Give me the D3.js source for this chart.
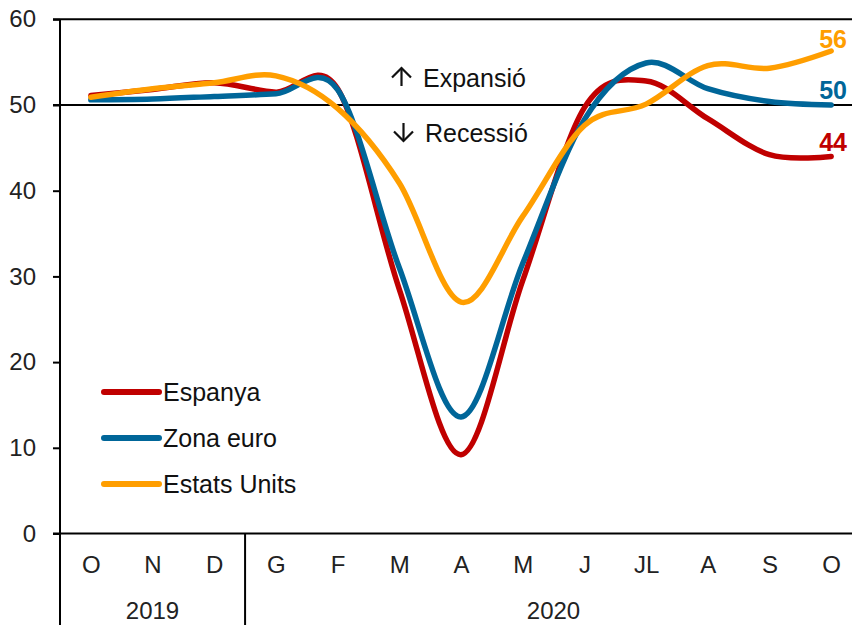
<!DOCTYPE html>
<html><head><meta charset="utf-8">
<script src="https://cdn.jsdelivr.net/npm/d3@7"></script>
<style>body{margin:0;background:#fff}svg{display:block}text{font-family:"Liberation Sans",Arial,sans-serif}</style>
</head><body><svg id="c" width="852" height="625"></svg>
<script>
const months = ["O","N","D","G","F","M","A","M","J","JL","A","S","O"];
const years = [{label:"2019", from:0, to:2},{label:"2020", from:3, to:12}];
const espanya = [51.1, 51.8, 52.6, 51.5, 51.9, 28.5, 9.2, 29.5, 49.7, 52.8, 48.4, 44.2, 44.0];
const zonaEuro = [50.6, 50.7, 51.0, 51.3, 51.8, 31.0, 13.6, 31.5, 48.3, 54.9, 51.9, 50.4, 50.0];
const estatsUnits = [50.9, 51.9, 52.6, 53.4, 49.6, 40.9, 27.0, 37.0, 47.6, 50.1, 54.6, 54.3, 56.3];
const seriesNames = ["Espanya","Zona euro","Estats Units"];
const yTicks = [0,10,20,30,40,50,60];

const series = [
  {name:seriesNames[0], values:espanya, color:"#C00000"},
  {name:seriesNames[1], values:zonaEuro, color:"#006699"},
  {name:seriesNames[2], values:estatsUnits, color:"#FF9E00"}
];

const svg = d3.select("#c");
const pL = 60, pR = 862, pT = 19.3, pB = 533.5;
const step = (pR-pL)/months.length;
const x = d3.scaleLinear().domain([0, months.length-1]).range([pL+step/2, pR-step/2]);
const y = d3.scaleLinear().domain([0,60]).range([pB, pT]);

const yAxis = d3.axisLeft(y).tickValues(yTicks).tickSize(7).tickPadding(17).tickSizeOuter(0);
const gy = svg.append("g").attr("transform",`translate(${pL},0)`).call(yAxis);
gy.select(".domain").remove();
gy.selectAll(".tick line").attr("stroke","#000").attr("stroke-width",2);
gy.selectAll(".tick text").attr("font-size",24).attr("fill","#222");
svg.append("line").attr("x1",pL).attr("x2",pL).attr("y1",pT).attr("y2",625).attr("stroke","#000").attr("stroke-width",2);
svg.append("line").attr("x1",pL-7).attr("x2",852).attr("y1",y(60)).attr("y2",y(60)).attr("stroke","#000").attr("stroke-width",2);
svg.append("line").attr("x1",pL-7).attr("x2",852).attr("y1",y(50)).attr("y2",y(50)).attr("stroke","#000").attr("stroke-width",2);
svg.append("line").attr("x1",pL-7).attr("x2",852).attr("y1",pB).attr("y2",pB).attr("stroke","#000").attr("stroke-width",2);

const xAxis = d3.axisBottom(x).tickValues(d3.range(months.length)).tickFormat(i=>months[i]).tickSize(0).tickPadding(22);
const gx = svg.append("g").attr("transform",`translate(0,${pB})`).call(xAxis);
gx.select(".domain").remove();
gx.selectAll(".tick text").attr("font-size",24).attr("fill","#222");

years.forEach((yr,k)=>{
  const x0 = x(yr.from)-step/2, x1 = x(yr.to)+step/2;
  if(k>0) svg.append("line").attr("x1",x0).attr("x2",x0).attr("y1",pB).attr("y2",625).attr("stroke","#000").attr("stroke-width",2);
  svg.append("text").attr("x",(x0+x1)/2).attr("y",619).attr("text-anchor","middle").attr("font-size",24).attr("fill","#222").text(yr.label);
});

// annotations: arrow glyph drawn as a small path + label text
const ann = [{dir:-1, label:"Expansió", cx:401.5, tx:423, yb:87},{dir:1, label:"Recessió", cx:403.5, tx:425, yb:142}];
ann.forEach(a=>{
  const h = 20, hw = 9.5;
  const yTip = a.dir<0 ? a.yb-19 : a.yb-1;
  const yTail = a.dir<0 ? a.yb-1 : a.yb-19;
  const g = svg.append("g").attr("fill","none").attr("stroke","#111").attr("stroke-width",2.2).attr("stroke-linecap","butt").attr("stroke-linejoin","miter");
  g.append("path").attr("d",`M${a.cx},${yTail}L${a.cx},${yTip}`);
  g.append("path").attr("d",`M${a.cx-hw},${yTip - a.dir*hw}L${a.cx},${yTip}L${a.cx+hw},${yTip - a.dir*hw}`);
  svg.append("text").attr("x",a.tx).attr("y",a.yb).attr("font-size",25).attr("fill","#111").text(a.label);
});

const line = d3.line().x((d,i)=>x(i)).y(d=>y(d)).curve(d3.curveCatmullRom.alpha(0));
series.forEach(s=>{
  svg.append("path").attr("d",line(s.values)).attr("fill","none").attr("stroke",s.color)
    .attr("stroke-width",5.5).attr("stroke-linecap","round").attr("stroke-linejoin","round");
});

const labelY = [151, 99, 48];
series.forEach((s,k)=>{
  svg.append("text").attr("x",847).attr("y",labelY[k]).attr("text-anchor","end")
    .attr("font-size",25).attr("font-weight","bold").attr("fill",s.color)
    .text(d3.format(".0f")(s.values[s.values.length-1]));
});

const legY = [392, 438, 484];
series.forEach((s,k)=>{
  svg.append("line").attr("x1",104).attr("x2",159).attr("y1",legY[k]).attr("y2",legY[k])
    .attr("stroke",s.color).attr("stroke-width",6).attr("stroke-linecap","round");
  svg.append("text").attr("x",163).attr("y",legY[k]+9).attr("font-size",25).attr("fill","#111").text(s.name);
});
</script></body></html>
